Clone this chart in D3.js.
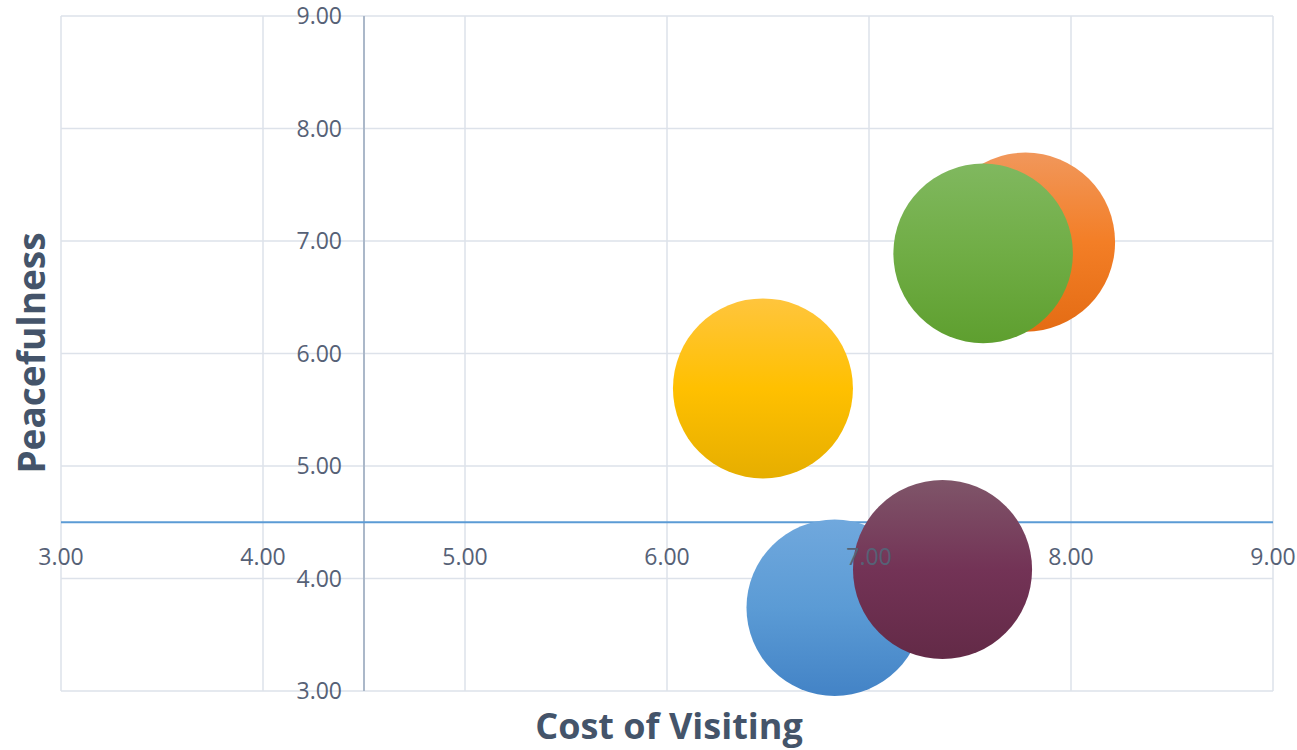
<!DOCTYPE html>
<html>
<head>
<meta charset="utf-8">
<script src="https://cdn.jsdelivr.net/npm/d3@7"></script>
<style>
  html, body { margin: 0; padding: 0; background: #fff; }
  svg { display: block; }
  text { font-family: "Open Sans", "Noto Sans", sans-serif; }
</style>
</head>
<body>
<svg id="chart" width="1297" height="750"></svg>
<script>
// ---- data ----
const names   = ["Blue", "Orange", "Yellow", "Green", "Purple"];
const costX   = [6.83, 7.775, 6.475, 7.565, 7.364];
const peaceY  = [3.74, 6.99, 5.69, 6.89, 4.08];
const sizes   = [9.6, 9.9, 10.0, 9.95, 9.9];
const colorsTop = ["#70a8dd", "#f1975b", "#ffc53d", "#80b85f", "#7f5569"];
const colorsMid = ["#5b9bd5", "#f37e26", "#ffc000", "#70ad45", "#733356"];
const colorsBot = ["#4383c6", "#e46c14", "#e6ae00", "#5e9f2f", "#632a47"];
const xTicks = [3, 4, 5, 6, 7, 8, 9];
const yTicks = [3, 4, 5, 6, 7, 8, 9];
const xTitle = "Cost of Visiting";
const yTitle = "Peacefulness";

// ---- layout ----
const svg = d3.select("#chart");
const x = d3.scaleLinear().domain([3, 9]).range([61, 1273]);
const y = d3.scaleLinear().domain([3, 9]).range([691, 16]);
const r = d3.scaleSqrt().domain([0, d3.max(sizes)]).range([0, 90]);
const xCross = 4.5, yCross = 4.5;

const defs = svg.append("defs");
names.forEach((n, i) => {
  const g = defs.append("linearGradient").attr("id", "grad" + i)
    .attr("x1", 0).attr("y1", 0).attr("x2", 0).attr("y2", 1);
  g.append("stop").attr("offset", "0%").attr("stop-color", colorsTop[i]);
  g.append("stop").attr("offset", "50%").attr("stop-color", colorsMid[i]);
  g.append("stop").attr("offset", "100%").attr("stop-color", colorsBot[i]);
});

// gridlines
const grid = svg.append("g");
grid.selectAll("line.v").data(xTicks).join("line")
  .attr("x1", d => x(d)).attr("x2", d => x(d))
  .attr("y1", y(3)).attr("y2", y(9))
  .attr("stroke", "#dde2ea").attr("stroke-width", 1.5);
grid.selectAll("line.h").data(yTicks).join("line")
  .attr("y1", d => y(d)).attr("y2", d => y(d))
  .attr("x1", x(3)).attr("x2", x(9))
  .attr("stroke", "#dde2ea").attr("stroke-width", 1.5);

// axes lines
svg.append("line")
  .attr("x1", x(xCross)).attr("x2", x(xCross))
  .attr("y1", y(3)).attr("y2", y(9))
  .attr("stroke", "#abb8c9").attr("stroke-width", 2);
svg.append("line")
  .attr("x1", x(3)).attr("x2", x(9))
  .attr("y1", y(yCross)).attr("y2", y(yCross))
  .attr("stroke", "#5b9bd5").attr("stroke-width", 2);

// bubbles
const data = names.map((n, i) => ({ n, i, x: costX[i], y: peaceY[i], s: sizes[i] }));
svg.append("g").selectAll("circle").data(data).join("circle")
  .attr("cx", d => x(d.x)).attr("cy", d => y(d.y))
  .attr("r", d => r(d.s))
  .attr("fill", d => `url(#grad${d.i})`);

// tick labels
const fmt = d3.format(".2f");
svg.append("g").selectAll("text").data(xTicks).join("text")
  .attr("x", d => x(d)).attr("y", y(yCross) + 43)
  .attr("text-anchor", "middle")
  .attr("font-size", 23).attr("fill", "#566176")
  .text(d => fmt(d));
svg.append("g").selectAll("text").data(yTicks).join("text")
  .attr("x", x(xCross) - 22).attr("y", d => y(d) + 8)
  .attr("text-anchor", "end")
  .attr("font-size", 23).attr("fill", "#566176")
  .text(d => fmt(d));

// axis titles
svg.append("text")
  .attr("x", 669).attr("y", 739)
  .attr("text-anchor", "middle")
  .attr("font-size", 36).attr("font-weight", "bold").attr("fill", "#44546a")
  .text(xTitle);
svg.append("text")
  .attr("transform", "translate(45,353) rotate(-90)")
  .attr("text-anchor", "middle")
  .attr("font-size", 37).attr("font-weight", "bold").attr("fill", "#44546a")
  .text(yTitle);
</script>
</body>
</html>
